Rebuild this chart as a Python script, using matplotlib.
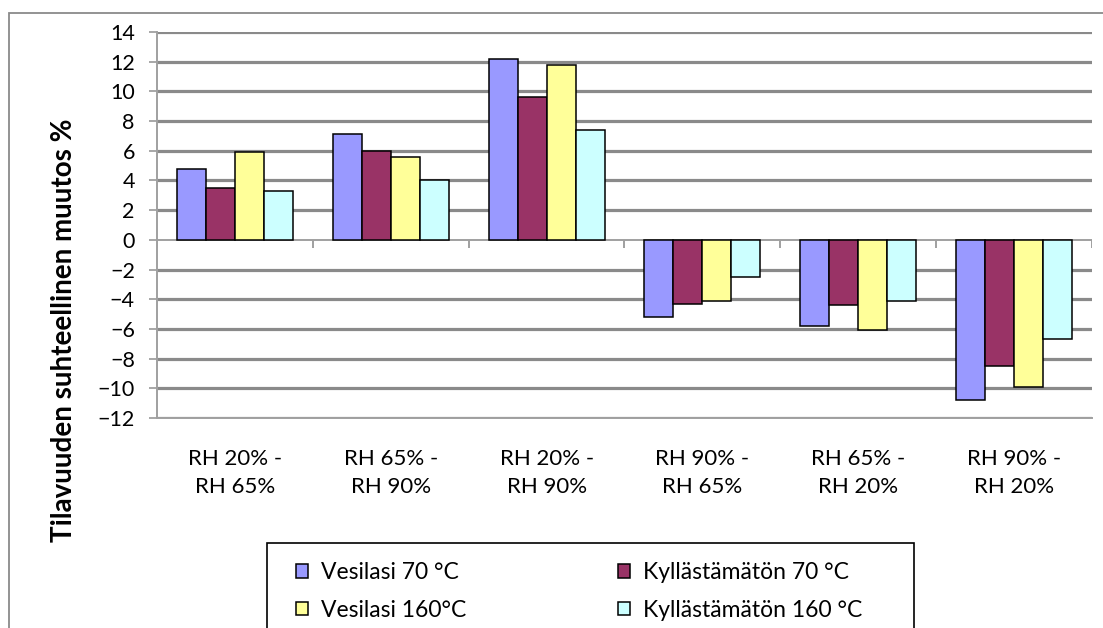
import matplotlib
matplotlib.use("Agg")
import matplotlib.pyplot as plt
from matplotlib.patches import Rectangle
import numpy as np

plt.rcParams.update({
    "font.family": ["Lato", "DejaVu Sans"],
})

# Relative volume change per humidity step
categories = ["RH 20% -\nRH 65%", "RH 65% -\nRH 90%", "RH 20% -\nRH 90%",
              "RH 90% -\nRH 65%", "RH 65% -\nRH 20%", "RH 90% -\nRH 20%"]
series_names = ["Vesilasi 70 °C", "Kyllästämätön 70 °C",
                "Vesilasi 160°C", "Kyllästämätön 160 °C"]
vesilasi_70 = [4.8, 7.1, 12.2, -5.2, -5.8, -10.8]
kyllastamaton_70 = [3.5, 6.0, 9.6, -4.3, -4.4, -8.5]
vesilasi_160 = [5.9, 5.6, 11.8, -4.1, -6.1, -9.9]
kyllastamaton_160 = [3.3, 4.0, 7.4, -2.5, -4.1, -6.7]
yticks = np.arange(-12, 15, 2)

colors = ["#9999ff", "#993366", "#ffff99", "#ccffff"]
series = [vesilasi_70, kyllastamaton_70, vesilasi_160, kyllastamaton_160]

fig = plt.figure(figsize=(11.03, 6.28), dpi=100)
ax = fig.add_axes([157/1103, 1 - 418/628, 935/1103, 386/628])

x = np.arange(len(categories))
w = 0.186
for k, (vals, c, name) in enumerate(zip(series, colors, series_names)):
    ax.bar(x + (k - 1.5) * w, vals, w, color=c, edgecolor="black",
           linewidth=1.1, label=name, zorder=3)

ax.set_xlim(-0.5, len(categories) - 0.5)
ax.set_ylim(-12, 14)

# horizontal gridlines, zero line drawn separately as the category axis
ax.hlines(yticks[yticks != 0], -0.5, len(categories) - 0.5,
          colors="#8a8a8a", linewidth=2.3, zorder=1)
ax.axhline(0, color="#a0a0a0", linewidth=1.4, zorder=2)
bounds = np.arange(len(categories) + 1) - 0.5
ax.vlines(bounds, -0.55, 0, colors="#a0a0a0", linewidth=1.4, zorder=2)

ax.set_yticks(yticks)
ax.set_xticks(x, categories)
ax.tick_params(axis="y", length=6, width=1.3, color="#a0a0a0",
               labelsize=15.5, pad=10)
ax.tick_params(axis="x", length=0, labelsize=16, pad=22)
for lbl in ax.get_xticklabels():
    lbl.set_linespacing(1.55)

for side in ["top", "right"]:
    ax.spines[side].set_visible(False)
for side in ["left", "bottom"]:
    ax.spines[side].set_color("#a0a0a0")
    ax.spines[side].set_linewidth(1.4)

fig.text(64/1103, 1 - 330/628, "Tilavuuden suhteellinen muutos %",
         rotation=90, ha="center", va="center", fontsize=20,
         fontweight="bold")

# chart frame and legend box run past the lower edge
fig.patches.append(Rectangle((9/1103, -0.1), 1.2, 1.1 - 13/628,
                             transform=fig.transFigure, fill=False,
                             edgecolor="#8a8a8a", linewidth=1.3))
fig.patches.append(Rectangle((267/1103, -0.1), 647/1103, 0.1 + 85/628,
                             transform=fig.transFigure, fill=False,
                             edgecolor="black", linewidth=1.2))

handles, labels = ax.get_legend_handles_labels()
order = [0, 2, 1, 3]
fig.legend([handles[i] for i in order], [labels[i] for i in order],
           ncol=2, loc="upper left",
           bbox_to_anchor=(280/1103, 1 - 546/628), frameon=False,
           fontsize=16.5, handlelength=0.52, handleheight=0.52,
           handletextpad=0.55, columnspacing=6.65, labelspacing=0.72,
           borderpad=0.2)

fig.savefig("out.png", dpi=100)
